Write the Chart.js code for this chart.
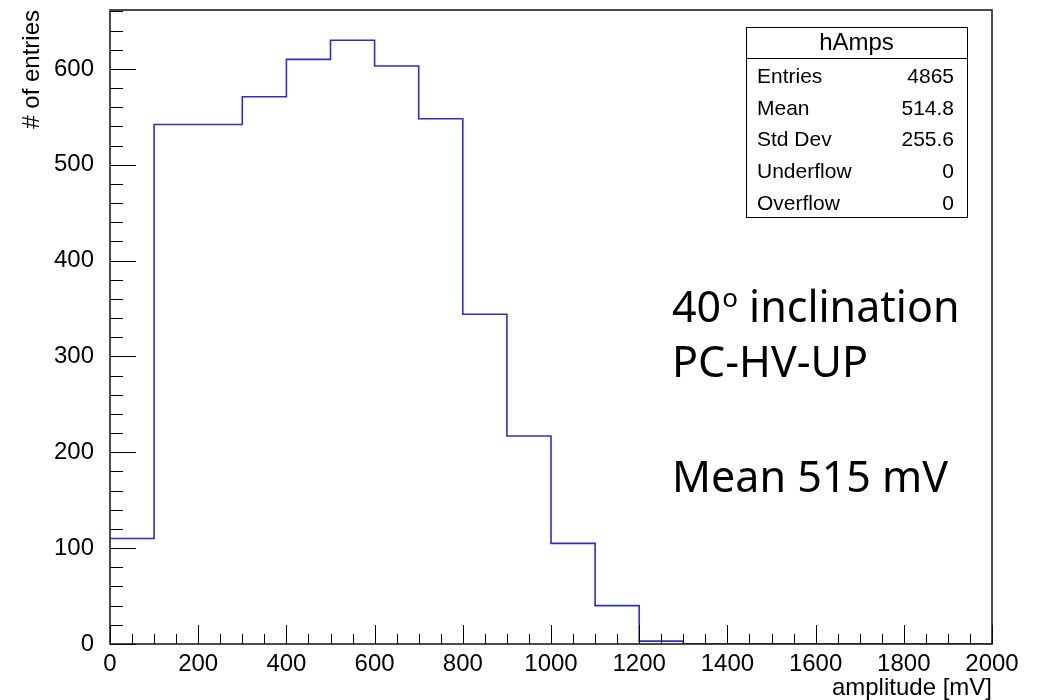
<!DOCTYPE html>
<html>
<head>
<meta charset="utf-8">
<script src="https://cdn.jsdelivr.net/npm/chart.js@4"></script>
<style>
  html, body { margin: 0; padding: 0; background: #fff; }
  #wrap { width: 1040px; height: 700px; }
</style>
</head>
<body>
<div id="wrap"><canvas id="myChart" width="1040" height="700"></canvas></div>
<script>
// --- histogram hAmps : lower bin edges (mV) and counts ---
const binLow = [0, 100, 200, 300, 400, 500, 600, 700, 800, 900, 1000, 1100, 1200, 1300, 1400, 1500, 1600, 1700, 1800, 1900];
const counts = [110, 542, 542, 571, 610, 630, 603, 548, 344, 217, 105, 40, 3, 0, 0, 0, 0, 0, 0, 0];
const binWidth = 100;
const xMin = 0, xMax = 2000;
const yMax = 661.5;

// stats box
const statsTitle = 'hAmps';
const statsLabels = ['Entries', 'Mean', 'Std Dev', 'Underflow', 'Overflow'];
const statsValues = ['4865', '514.8', '255.6', '0', '0'];

// texte ajouté sur le graphique
const noteLines = ['inclination', 'PC-HV-UP', 'Mean 515 mV'];

const rootFont = '"Liberation Sans", Arial, Helvetica, sans-serif';
const noteFont = '"Noto Sans", "Open Sans", sans-serif';
const lineBlue = '#2e2ec4';

// points pour la ligne en escalier
const points = binLow.map((x, i) => ({ x: x, y: counts[i] }));
points.push({ x: binLow[binLow.length - 1] + binWidth, y: counts[counts.length - 1] });

// --- plugin : cadre, graduations, titres, boîte de stats, notes ---
const rootStyle = {
  id: 'rootStyle',
  afterDatasetsDraw(chart) {
    const ctx = chart.ctx;
    const a = chart.chartArea;
    const xs = chart.scales.x, ys = chart.scales.y;
    ctx.save();

    // graduations (à l'intérieur du cadre, comme ROOT)
    ctx.strokeStyle = '#000';
    ctx.lineWidth = 1;
    ctx.beginPath();
    for (let v = 0; v <= yMax; v += 20) {
      const py = Math.round(ys.getPixelForValue(v)) + 0.5;
      const len = (v % 100 === 0) ? 26 : 13;
      ctx.moveTo(a.left, py);
      ctx.lineTo(a.left + len, py);
    }
    for (let v = xMin; v <= xMax; v += 50) {
      const px = Math.round(xs.getPixelForValue(v)) + 0.5;
      const len = (v % 200 === 0) ? 19 : 10;
      ctx.moveTo(px, a.bottom);
      ctx.lineTo(px, a.bottom - len);
    }
    ctx.stroke();

    // cadre
    ctx.lineWidth = 1.5;
    ctx.strokeStyle = '#111';
    ctx.strokeRect(a.left, a.top, a.right - a.left, a.bottom - a.top);

    // titres des axes
    ctx.fillStyle = '#000';
    ctx.font = '24px ' + rootFont;
    ctx.textAlign = 'right';
    ctx.textBaseline = 'alphabetic';
    ctx.fillText('amplitude [mV]', a.right, 695);
    ctx.save();
    ctx.translate(39, a.top);
    ctx.rotate(-Math.PI / 2);
    ctx.textAlign = 'right';
    ctx.fillText('# of entries', 0, 0);
    ctx.restore();

    // boîte de stats
    const bx = 746, by = 27, bw = 221, bh = 190;
    ctx.fillStyle = '#fff';
    ctx.fillRect(bx, by, bw, bh);
    ctx.lineWidth = 1;
    ctx.strokeStyle = '#000';
    ctx.strokeRect(bx + 0.5, by + 0.5, bw, bh);
    ctx.beginPath();
    ctx.moveTo(bx, 58.5);
    ctx.lineTo(bx + bw, 58.5);
    ctx.stroke();
    ctx.fillStyle = '#000';
    ctx.font = '24px ' + rootFont;
    ctx.textAlign = 'center';
    ctx.fillText(statsTitle, bx + bw / 2, 50);
    ctx.font = '21px ' + rootFont;
    statsLabels.forEach((lab, i) => {
      const base = 83 + i * 31.7;
      ctx.textAlign = 'left';
      ctx.fillText(lab, 757, base);
      ctx.textAlign = 'right';
      ctx.fillText(statsValues[i], 954, base);
    });

    // notes
    ctx.textAlign = 'left';
    ctx.font = '43px ' + noteFont;
    ctx.fillText('40', 672, 322);
    let w = ctx.measureText('40').width;
    ctx.font = '26px ' + noteFont;
    ctx.fillText('o', 672 + w + 1, 307);
    const wo = ctx.measureText('o').width;
    ctx.font = '43px ' + noteFont;
    ctx.fillText(' ' + noteLines[0], 672 + w + 1 + wo, 322);
    ctx.fillText(noteLines[1], 672, 377);
    ctx.fillText(noteLines[2], 672, 492);

    ctx.restore();
  }
};

const ctx = document.getElementById('myChart').getContext('2d');
const myChartInstance = new Chart(ctx, {
  type: 'line',
  data: {
    datasets: [{
      label: statsTitle,
      data: points,
      stepped: true,
      borderColor: lineBlue,
      borderWidth: 1.6,
      pointRadius: 0,
      fill: false
    }]
  },
  options: {
    responsive: false,
    animation: false,
    devicePixelRatio: 1,
    layout: { padding: { left: 0, top: 10, right: 48, bottom: 0 } },
    plugins: { legend: { display: false }, tooltip: { enabled: false } },
    scales: {
      x: {
        type: 'linear',
        min: xMin,
        max: xMax,
        grid: { display: false },
        border: { display: false },
        ticks: {
          stepSize: 200,
          maxRotation: 0,
          autoSkip: false,
          color: '#000',
          padding: -2,
          font: { family: rootFont, size: 24 },
          callback: v => String(v)
        },
        afterFit(s) { s.height = 56; s.paddingLeft = 0; s.paddingRight = 0; }
      },
      y: {
        min: 0,
        max: yMax,
        grid: { display: false },
        border: { display: false },
        ticks: {
          stepSize: 100,
          includeBounds: false,
          color: '#000',
          padding: 8,
          font: { family: rootFont, size: 24 },
          callback: v => (v % 100 === 0 ? String(v) : '')
        },
        afterFit(s) { s.width = 110; s.paddingTop = 0; s.paddingBottom = 0; }
      }
    }
  },
  plugins: [rootStyle]
});
</script>
</body>
</html>
